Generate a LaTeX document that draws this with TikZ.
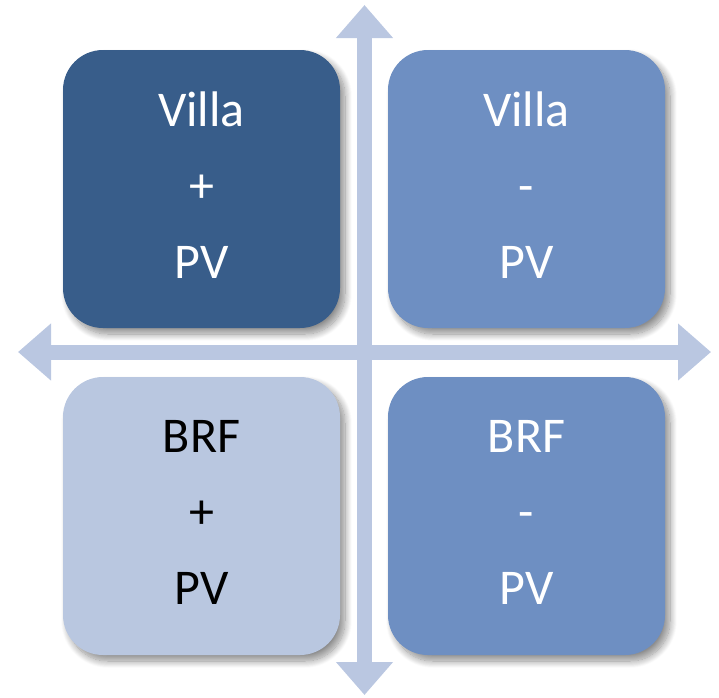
\documentclass[tikz,border=0pt]{standalone}
\usepackage{fontspec}
\setmainfont{Carlito}
\usetikzlibrary{arrows.meta,shadows.blur}

\definecolor{darkblue}{HTML}{385D8A}
\definecolor{midblue}{HTML}{6E8FC2}
\definecolor{lightblue}{HTML}{B9C7E0}
\definecolor{axisblue}{HTML}{BAC7E1}

\begin{document}
\begin{tikzpicture} [x=1pt, y=-1pt,
	quad/.style = {rounded corners = 40pt,
		minimum width = 277pt,
		minimum height = 278pt,
		align = center,
		text depth = 8pt,
		font = \fontsize{50}{76}\selectfont,
		blur shadow = {shadow xshift = 5pt, shadow yshift = -6pt,
			shadow blur radius = 7pt, shadow blur steps = 14,
			shadow opacity = 45}},
	axis/.style = {axisblue,
		line width = 15pt,
		{Triangle[width = 55pt, length = 33pt]}-{Triangle[width = 55pt, length = 33pt]}}]

	\useasboundingbox (0,0) rectangle (719,697);

	\coordinate (top) at (364.5,5);
	\coordinate (bottom) at (364.5,695);
	\coordinate (left) at (18,352);
	\coordinate (right) at (711,352);

	\draw [axis] (bottom) -- (top);
	\draw [axis] (left) -- (right);

	\node (VP) at (201.5,189) [quad, fill = darkblue, text = white] {Villa\\+\\PV};
	\node (VM) at (526.5,189) [quad, fill = midblue, text = white] {Villa\\-\\PV};
	\node (BP) at (201.5,516) [quad, fill = lightblue, text = black] {BRF\\+\\PV};
	\node (BM) at (526.5,516) [quad, fill = midblue, text = white] {BRF\\-\\PV};

\end{tikzpicture}
\end{document}
